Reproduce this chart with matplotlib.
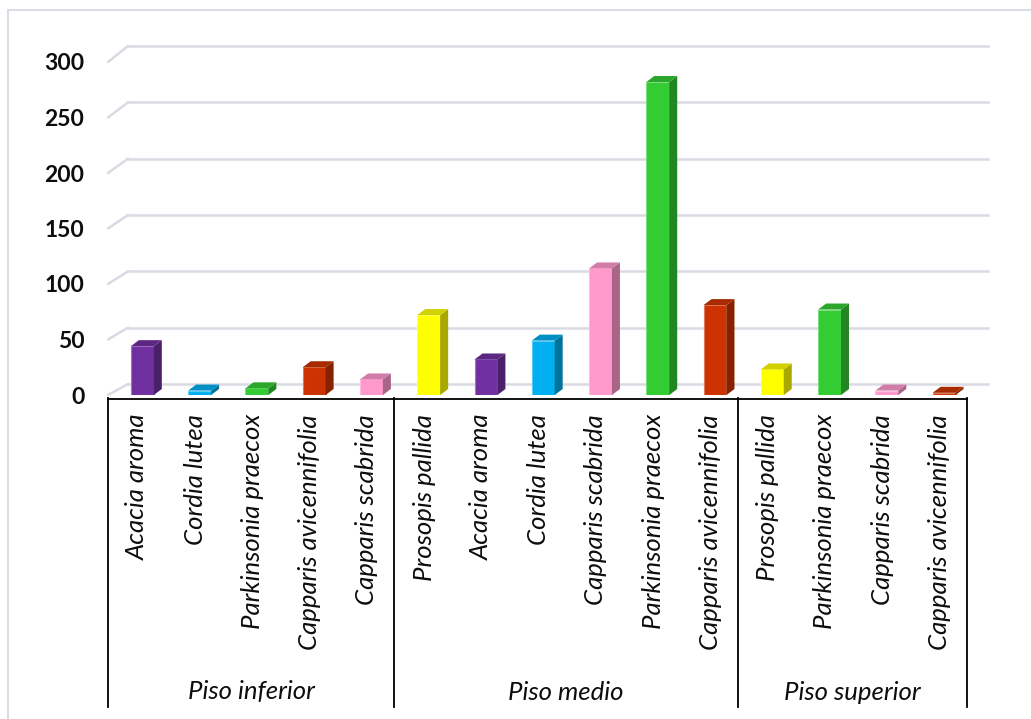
import matplotlib
matplotlib.use("Agg")
import matplotlib.pyplot as plt
import matplotlib.transforms as mtransforms
from matplotlib.patches import Polygon, Rectangle, ConnectionPatch
from matplotlib.colors import to_rgb

# ---- data -------------------------------------------------------------
groups = ["Piso inferior", "Piso medio", "Piso superior"]

inferior_species = ["Acacia aroma", "Cordia lutea", "Parkinsonia praecox",
                    "Capparis avicennifolia", "Capparis scabrida"]
inferior_values = [44, 4, 6, 25, 14]

medio_species = ["Prosopis pallida", "Acacia aroma", "Cordia lutea",
                 "Capparis scabrida", "Parkinsonia praecox", "Capparis avicennifolia"]
medio_values = [72, 32, 49, 114, 282, 81]

superior_species = ["Prosopis pallida", "Parkinsonia praecox",
                    "Capparis scabrida", "Capparis avicennifolia"]
superior_values = [23, 77, 4, 2]

yticks = [0, 50, 100, 150, 200, 250, 300]

species_colors = {
    "Acacia aroma": "#7030A0",
    "Cordia lutea": "#00B0F0",
    "Parkinsonia praecox": "#33CC33",
    "Capparis avicennifolia": "#CC3300",
    "Capparis scabrida": "#FF99CC",
    "Prosopis pallida": "#FFFF00",
}

group_species = [inferior_species, medio_species, superior_species]
group_values = [inferior_values, medio_values, superior_values]

categories = [s for g in group_species for s in g]
values = [v for g in group_values for v in g]
n = len(categories)

# ---- figure -----------------------------------------------------------
W, H = 1031, 719
fig = plt.figure(figsize=(W / 100, H / 100), dpi=100)
fig.patch.set_facecolor("white")

FONT = "Lato"
GRID = "#D9DAE3"
TEXT = "#0D0D0D"


def px_rect(left, right, y_zero, y_top):
    return [left / W, 1 - y_zero / H, (right - left) / W, (y_zero - y_top) / H]


# chart-area border
fig.add_artist(Rectangle((8 / W, -0.1), 1.2, 1.1 - 10 / H, transform=fig.transFigure,
                         fill=False, edgecolor="#DCDDE4", lw=1.5))

# back wall carrying the gridlines
wall = fig.add_axes(px_rect(128, 988, 384, 46))
wall.set_xlim(0, 1)
wall.set_ylim(0, 300)
wall.axis("off")
for v in yticks:
    wall.axhline(v, color=GRID, lw=1.8, clip_on=False, zorder=1)

# front plane holding the bars
ax = fig.add_axes(px_rect(108, 967, 395, 62))
ax.set_xlim(0, n)
ax.set_ylim(0, 300)
ax.patch.set_alpha(0)

# diagonals joining the front plane to the back wall
for v in yticks:
    con = ConnectionPatch(xyA=(0, v), coordsA=ax.transData,
                          xyB=(0, v), coordsB=wall.transData,
                          color=GRID, lw=1.8, zorder=1)
    ax.add_artist(con)

# bar depth (pixels converted to data units)
unit_x = (967 - 108) / n
unit_y = (395 - 62) / 300
ddx = 8 / unit_x
ddy = 6 / unit_y


def shade(color, f):
    r, g, b = to_rgb(color)
    return (r * f, g * f, b * f)


def tint(color, f):
    r, g, b = to_rgb(color)
    return (r + (1 - r) * f, g + (1 - g) * f, b + (1 - b) * f)


bw = 0.40
for i, (sp, v) in enumerate(zip(categories, values)):
    c = species_colors[sp]
    x0 = i + 0.40
    x1 = x0 + bw
    ax.bar(x0, v, width=bw, align="edge", color=c, edgecolor=tint(c, 0.35),
           lw=0.8, zorder=3)
    side = Polygon([(x1, 0), (x1, v), (x1 + ddx, v + ddy), (x1 + ddx, ddy)],
                   closed=True, facecolor=shade(c, 0.66), edgecolor="none",
                   zorder=3, clip_on=False)
    top = Polygon([(x0, v), (x1, v), (x1 + ddx, v + ddy), (x0 + ddx, v + ddy)],
                  closed=True, facecolor=shade(c, 0.82), edgecolor="none",
                  zorder=3, clip_on=False)
    ax.add_patch(side)
    ax.add_patch(top)

# value axis
ax.set_yticks(yticks)
ax.set_yticklabels([str(t) for t in yticks], fontfamily=FONT, fontweight="bold",
                   fontsize=16.5, color=TEXT)
ax.tick_params(axis="y", length=0, pad=17)
for lbl in ax.get_yticklabels():
    lbl.set_y(lbl.get_position()[1])
ax.set_xticks([])
for s in ["top", "right", "left"]:
    ax.spines[s].set_visible(False)
ax.spines["bottom"].set_position(("outward", 3))
ax.spines["bottom"].set_linewidth(1.3)
ax.spines["bottom"].set_color("black")

# category axis: species labels, group separators and group names
trans = mtransforms.blended_transform_factory(ax.transData, ax.transAxes)
ax_px = 395 - 62
y_axis = -3 / ax_px
y_bottom = -(707 - 395) / ax_px
y_label = -(414 - 395) / ax_px
y_group = -(692 - 395) / ax_px

for i, sp in enumerate(categories):
    ax.text(i + 0.52, y_label, sp, transform=trans, rotation=90, ha="center",
            va="top", fontfamily=FONT, fontstyle="italic", fontsize=18.5,
            color=TEXT)

bounds = [0]
for g in group_species:
    bounds.append(bounds[-1] + len(g))
for b in bounds:
    ax.plot([b, b], [y_axis, y_bottom], transform=trans, color="black",
            lw=1.3, clip_on=False)
for g, a, b in zip(groups, bounds[:-1], bounds[1:]):
    ax.text((a + b) / 2, y_group, g, transform=trans, ha="center", va="center",
            fontfamily=FONT, fontstyle="italic", fontsize=18.5, color=TEXT)

fig.savefig("out.png", dpi=100, facecolor="white")
